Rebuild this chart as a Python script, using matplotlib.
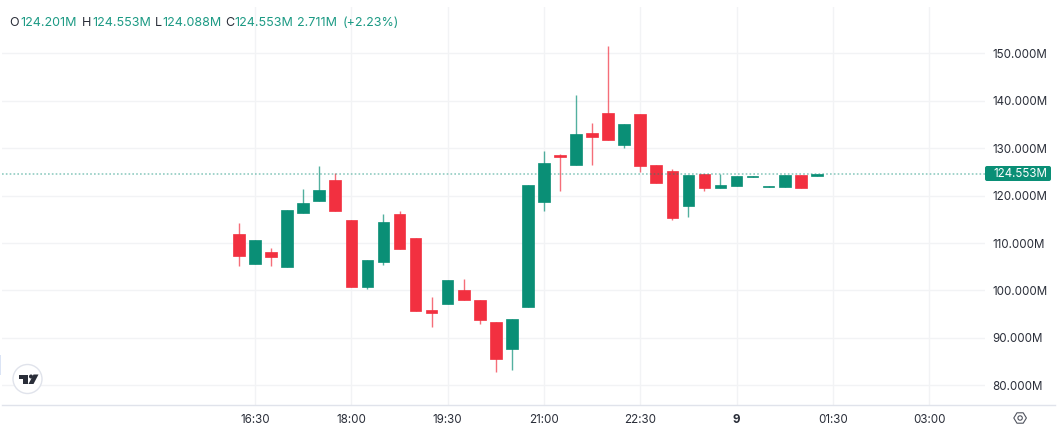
import matplotlib
matplotlib.use("Agg")
import matplotlib.pyplot as plt
from matplotlib.patches import Circle, FancyBboxPatch, Polygon, Rectangle

plt.rcParams['font.family'] = ['Inter', 'DejaVu Sans']

# 15 minute candles, prices in millions, first one opens at 16:15
first_candle = 16 * 60 + 15
opens = [111.90, 105.65, 108.11, 104.94, 116.33, 118.93, 123.29, 114.78, 100.80, 106.07,
         116.12, 111.13, 95.81, 97.14, 100.09, 98.06, 93.28, 87.66, 96.58, 118.58,
         128.63, 126.52, 133.20, 137.34, 130.74, 137.13, 126.38, 125.18, 117.88, 124.48,
         121.67, 122.02, 123.95, 121.85, 121.88, 124.27, 124.201]
highs = [114.22, 110.57, 108.95, 117.03, 121.39, 126.24, 124.69, 114.78, 106.42, 116.12,
         116.75, 111.13, 98.62, 102.20, 102.41, 98.06, 93.28, 94.05, 122.16, 129.40,
         128.84, 141.21, 135.30, 151.54, 135.02, 137.13, 126.38, 125.61, 124.27, 124.48,
         124.55, 124.06, 124.06, 121.95, 124.27, 124.27, 124.553]
lows = [105.15, 105.65, 105.08, 104.94, 116.33, 118.93, 116.68, 100.80, 100.31, 105.30,
        108.74, 95.60, 92.22, 97.14, 97.92, 93.00, 82.74, 83.30, 96.58, 116.82,
        121.04, 126.52, 126.52, 131.72, 130.10, 124.97, 122.58, 114.78, 115.56, 121.04,
        121.67, 122.02, 123.95, 121.85, 121.88, 121.67, 124.088]
closes = [107.19, 110.57, 107.05, 117.03, 118.37, 121.18, 116.68, 100.80, 106.42, 114.43,
          108.74, 95.60, 95.25, 102.20, 97.92, 93.70, 85.62, 94.05, 122.16, 126.94,
          128.07, 132.98, 132.42, 131.72, 135.02, 126.24, 122.58, 115.35, 124.27, 121.67,
          122.16, 124.06, 124.06, 121.95, 124.27, 121.67, 124.553]

price_ticks = [80, 90, 100, 110, 120, 130, 140, 150]
time_ticks = [990, 1080, 1170, 1260, 1350, 1440, 1530, 1620]
time_labels = ['16:30', '18:00', '19:30', '21:00', '22:30', '9', '01:30', '03:00']
last_price = 124.553

legend_parts = [('O', 9), ('124.201M', 20), ('H', 82), ('124.553M', 92), ('L', 155),
                ('124.088M', 162), ('C', 225), ('124.553M', 234), ('2.711M', 297), ('(+2.23%)', 343)]

GREEN = '#0a8f76'
RED = '#f23040'
GRID = '#f2f3f5'
BORDER = '#e0e3eb'
TEXT = '#2a2e39'

W, H = 1061, 441
fig = plt.figure(figsize=(W / 100, H / 100), dpi=100, facecolor='white')
ax = fig.add_axes([2 / W, 1 - 405 / H, 983 / W, 398 / H])

minutes = [first_candle + 15 * i for i in range(len(opens))]
colors = [GREEN if c >= o else RED for o, c in zip(opens, closes)]

ax.vlines(minutes, lows, highs, colors=colors, linewidth=1, alpha=0.7, zorder=3)
for m, o, c, col in zip(minutes, opens, closes, colors):
    ax.bar(m, abs(c - o), bottom=min(o, c), width=10.9, color=col,
           edgecolor=col, linewidth=0.5, zorder=4)

ax.axhline(last_price, color=GREEN, linewidth=1.2, alpha=0.45, linestyle=(0, (1, 1.3)), zorder=5)

ax.set_xlim(753.5, 1672.2)
ax.set_ylim(75.85, 159.76)
ax.set_xticks(time_ticks)
ax.set_xticklabels(time_labels)
ax.set_yticks(price_ticks)
ax.set_yticklabels(['%.3fM' % p for p in price_ticks])
ax.yaxis.tick_right()
ax.tick_params(length=0, labelsize=8.35, labelcolor=TEXT)
ax.tick_params(axis='y', pad=5.2)
ax.tick_params(axis='x', pad=6.5)
ax.get_xticklabels()[5].set_fontweight('bold')
ax.grid(True, color=GRID, linewidth=1)
ax.set_axisbelow(True)
for s in ax.spines.values():
    s.set_visible(False)

# overlay in pixel coordinates for the header, price tag and small icons
ov = fig.add_axes([0, 0, 1, 1], facecolor='none')
ov.set_xlim(0, W)
ov.set_ylim(H, 0)
ov.axis('off')

ov.plot([2, 1055], [405, 405], color=BORDER, linewidth=1)
ov.add_patch(Rectangle((0, 355), 1, 20, color='#dbe4f5', linewidth=0))

for txt, x in legend_parts:
    col = TEXT if len(txt) == 1 else '#1c9a84'
    ov.text(x, 22.8, txt, color=col, fontsize=9.0, ha='left', va='center')

ov.add_patch(FancyBboxPatch((985, 166), 66, 15, boxstyle='round,pad=0,rounding_size=2',
                            facecolor=GREEN, edgecolor='none'))
ov.text(993, 173.8, '%.3fM' % last_price, color='white', fontsize=8.35, ha='left', va='center')

# logo badge
ov.add_patch(Circle((27.5, 379), 14.5, facecolor='white', edgecolor=BORDER, linewidth=1))
ov.add_patch(Polygon([(18.5, 374.5), (28, 374.5), (28, 384), (23, 384), (23, 378.5), (18.5, 378.5)],
                     facecolor=TEXT, edgecolor='none'))
ov.add_patch(Circle((31, 376.5), 2, facecolor=TEXT, edgecolor='none'))
ov.add_patch(Polygon([(33.5, 374.5), (38.5, 374.5), (33.5, 384), (28.5, 384)],
                     facecolor=TEXT, edgecolor='none'))

# settings icon
ov.add_patch(Polygon([(1013.8, 418), (1017, 412.8), (1023.2, 412.8), (1026.4, 418), (1023.2, 423.2), (1017, 423.2)],
                     facecolor='none', edgecolor='#50535e', linewidth=0.8, joinstyle='round'))
ov.add_patch(Circle((1020.1, 418), 2.2, facecolor='none', edgecolor='#50535e', linewidth=0.8))

fig.savefig('out.png', dpi=100)
